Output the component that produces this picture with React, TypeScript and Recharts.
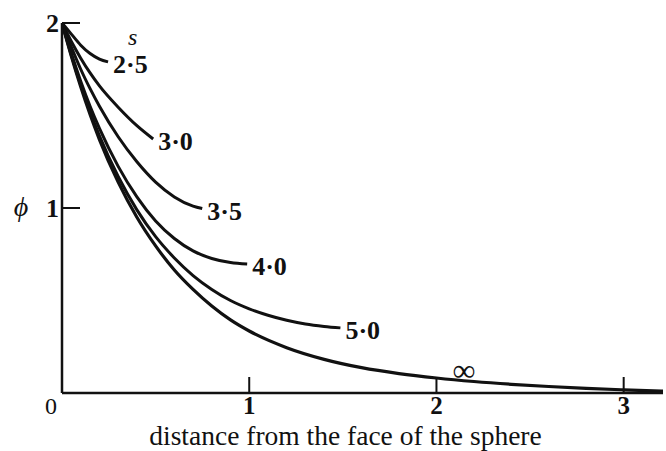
import { LineChart, Line, XAxis, YAxis } from "recharts";

// distance from the face of the sphere (x) and potential (y) for each s
const s25X = [0, 0.05, 0.1, 0.15, 0.2, 0.246];
const s25Y = [2.0, 1.94, 1.88, 1.835, 1.805, 1.79];

const s30X = [0, 0.05, 0.1, 0.15, 0.2, 0.3, 0.4, 0.487];
const s30Y = [2.0, 1.9, 1.81, 1.73, 1.66, 1.545, 1.445, 1.373];

const s35X = [0, 0.05, 0.1, 0.15, 0.2, 0.3, 0.4, 0.5, 0.6, 0.7, 0.749];
const s35Y = [2.0, 1.87, 1.75, 1.645, 1.55, 1.385, 1.25, 1.14, 1.06, 1.01, 0.997];

const s40X = [0, 0.05, 0.1, 0.15, 0.2, 0.3, 0.4, 0.5, 0.6, 0.7, 0.8, 0.9, 0.989];
const s40Y = [2.0, 1.835, 1.685, 1.55, 1.43, 1.225, 1.06, 0.93, 0.835, 0.768, 0.727, 0.705, 0.697];

const s50X = [0, 0.05, 0.1, 0.15, 0.2, 0.3, 0.4, 0.5, 0.6, 0.7, 0.8, 0.9, 1.0, 1.1, 1.2, 1.3, 1.4, 1.487];
const s50Y = [2.0, 1.825, 1.665, 1.52, 1.39, 1.17, 0.99, 0.845, 0.73, 0.635, 0.56, 0.5, 0.455, 0.42, 0.393, 0.373, 0.36, 0.352];

const infX = [0, 0.05, 0.1, 0.15, 0.2, 0.3, 0.4, 0.5, 0.6, 0.7, 0.8, 0.9, 1.0, 1.2, 1.4, 1.6, 1.8, 2.0, 2.2, 2.4, 2.6, 2.8, 3.0, 3.21];
const infY = [2.0, 1.82, 1.655, 1.505, 1.37, 1.14, 0.95, 0.795, 0.665, 0.56, 0.47, 0.395, 0.335, 0.245, 0.182, 0.137, 0.105, 0.081, 0.062, 0.047, 0.035, 0.025, 0.017, 0.01];

const xTicks = [0, 1, 2, 3];
const yTicks = [0, 1, 2];

const zip = (xs: number[], ys: number[]) => xs.map((x, i) => ({ x, y: ys[i] }));

const INK = "#111";
const SERIF = "'Liberation Serif', 'Times New Roman', serif";

const curves = [
  { name: "2·5", data: zip(s25X, s25Y) },
  { name: "3·0", data: zip(s30X, s30Y) },
  { name: "3·5", data: zip(s35X, s35Y) },
  { name: "4·0", data: zip(s40X, s40Y) },
  { name: "5·0", data: zip(s50X, s50Y) },
];
const infinity = zip(infX, infY);

function endLabel(text: string, last: number, withS = false) {
  return (p: any) => {
    if (p.index !== last) return null;
    return (
      <g>
        {withS && (
          <text x={p.x + 20} y={p.y - 17} fontFamily={SERIF} fontStyle="italic" fontSize={24} fill={INK}>
            s
          </text>
        )}
        <text x={p.x + 5} y={p.y + 11} fontFamily={SERIF} fontWeight="bold" fontSize={26} fill={INK}>
          {text}
        </text>
      </g>
    );
  };
}

function infLabel(p: any) {
  if (p.index !== 18) return null;
  return (
    <text x={p.x - 10} y={p.y - 1} textAnchor="middle" fontFamily={SERIF} fontSize={32} fill={INK}>
      ∞
    </text>
  );
}

function XTick({ x, y, payload }: any) {
  if (payload.value === 0) {
    return (
      <text x={x - 11} y={y + 21} textAnchor="middle" fontFamily={SERIF} fontSize={24} fill={INK}>
        0
      </text>
    );
  }
  return (
    <g>
      <line x1={x} x2={x} y1={y} y2={y - 16} stroke={INK} strokeWidth={2} />
      <text x={x} y={y + 21} textAnchor="middle" fontFamily={SERIF} fontWeight="bold" fontSize={25} fill={INK}>
        {payload.value}
      </text>
    </g>
  );
}

function YTick({ x, y, payload }: any) {
  if (payload.value === 0) return null;
  return (
    <g>
      <line x1={x} x2={x + 18} y1={y} y2={y} stroke={INK} strokeWidth={2} />
      <text x={x - 3} y={y + 9} textAnchor="end" fontFamily={SERIF} fontWeight="bold" fontSize={26} fill={INK}>
        {payload.value}
      </text>
    </g>
  );
}

export default function App() {
  return (
    <div style={{ position: "fixed", left: 0, top: 0, width: 666, height: 451, background: "#fff" }}>
      <LineChart width={666} height={451} margin={{ top: 23, right: 3, bottom: 0, left: 0 }}>
        <XAxis
          type="number"
          dataKey="x"
          domain={[0, 3.21]}
          ticks={xTicks}
          interval={0}
          allowDataOverflow
          height={58}
          tickSize={0}
          tickMargin={0}
          tickLine={false}
          axisLine={{ stroke: INK, strokeWidth: 2.5 }}
          tick={<XTick />}
          label={{
            content: (p: any) => (
              <text
                x={p.viewBox.x + p.viewBox.width / 2 - 17}
                y={445}
                textAnchor="middle"
                fontFamily={SERIF}
                fontSize={27.5}
                fill={INK}
              >
                distance from the face of the sphere
              </text>
            ),
          }}
        />
        <YAxis
          type="number"
          dataKey="y"
          domain={[0, 2]}
          ticks={yTicks}
          interval={0}
          width={62}
          tickSize={0}
          tickMargin={0}
          tickLine={false}
          axisLine={{ stroke: INK, strokeWidth: 2.5 }}
          tick={<YTick />}
          label={{
            content: () => (
              <text x={21} y={216} textAnchor="middle" fontFamily={SERIF} fontStyle="italic" fontSize={28} fill={INK}>
                ϕ
              </text>
            ),
          }}
        />
        {curves.map((c, i) => (
          <Line
            key={c.name}
            data={c.data}
            dataKey="y"
            type="monotone"
            stroke={INK}
            strokeWidth={3}
            dot={false}
            activeDot={false}
            isAnimationActive={false}
            label={endLabel(c.name, c.data.length - 1, i === 0)}
          />
        ))}
        <Line
          data={infinity}
          dataKey="y"
          type="monotone"
          stroke={INK}
          strokeWidth={3.2}
          dot={false}
          activeDot={false}
          isAnimationActive={false}
          label={infLabel}
        />
      </LineChart>
    </div>
  );
}
